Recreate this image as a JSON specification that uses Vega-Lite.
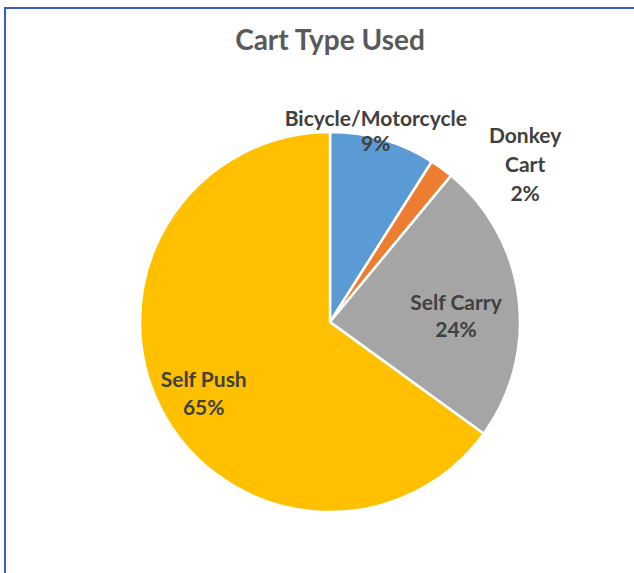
{
  "$schema": "https://vega.github.io/schema/vega-lite/v6.json",
  "width": 650,
  "height": 628,
  "autosize": {"type": "none"},
  "padding": {"left": 5, "top": 8, "right": -21, "bottom": -63},
  "background": "#ffffff",
  "view": {"stroke": "#3a5bbf", "strokeWidth": 2},
  "title": {
    "text": "Cart Type Used",
    "anchor": "middle",
    "font": "Lato",
    "fontSize": 28,
    "fontWeight": "bold",
    "color": "#595959",
    "baseline": "alphabetic",
    "offset": -70
  },
  "data": {
    "values": [
      {"category": "Bicycle/Motorcycle", "value": 9, "label": "Bicycle/Motorcycle\n9%"},
      {"category": "Donkey Cart", "value": 2, "label": "Donkey\nCart\n2%"},
      {"category": "Self Carry", "value": 24, "label": "Self Carry\n24%"},
      {"category": "Self Push", "value": 65, "label": "Self Push\n65%"}
    ]
  },
  "encoding": {
    "theta": {"field": "value", "type": "quantitative", "stack": true},
    "order": {"field": "category", "sort": "ascending"}
  },
  "layer": [
    {
      "mark": {"type": "arc", "outerRadius": 190, "stroke": "#ffffff", "strokeWidth": 2.5},
      "encoding": {
        "color": {
          "field": "category",
          "type": "nominal",
          "scale": {
            "domain": ["Bicycle/Motorcycle", "Donkey Cart", "Self Carry", "Self Push"],
            "range": ["#5b9bd5", "#ed7d31", "#a5a5a5", "#ffc000"]
          },
          "legend": null
        }
      }
    },
    {
      "mark": {"type": "text", "radius": 200, "dx": -10, "dy": -10, "font": "Lato", "fontSize": 21, "fontWeight": "bold", "color": "#404040", "lineBreak": "\n", "lineHeight": 25, "baseline": "middle", "align": "center"},
      "encoding": {"text": {"condition": {"test": "datum.category == 'Bicycle/Motorcycle'", "field": "label"}, "value": ""}}
    },
    {
      "mark": {"type": "text", "radius": 252, "dx": 47, "dy": 19, "font": "Lato", "fontSize": 21, "fontWeight": "bold", "color": "#404040", "lineBreak": "\n", "lineHeight": 29, "baseline": "middle", "align": "center"},
      "encoding": {"text": {"condition": {"test": "datum.category == 'Donkey Cart'", "field": "label"}, "value": ""}}
    },
    {
      "mark": {"type": "text", "radius": 127, "dy": -2, "font": "Lato", "fontSize": 21, "fontWeight": "bold", "color": "#404040", "lineBreak": "\n", "lineHeight": 27, "baseline": "middle", "align": "center"},
      "encoding": {"text": {"condition": {"test": "datum.category == 'Self Carry'", "field": "label"}, "value": ""}}
    },
    {
      "mark": {"type": "text", "radius": 144, "dx": 2, "dy": -6, "font": "Lato", "fontSize": 21, "fontWeight": "bold", "color": "#404040", "lineBreak": "\n", "lineHeight": 28, "baseline": "middle", "align": "center"},
      "encoding": {"text": {"condition": {"test": "datum.category == 'Self Push'", "field": "label"}, "value": ""}}
    }
  ]
}
